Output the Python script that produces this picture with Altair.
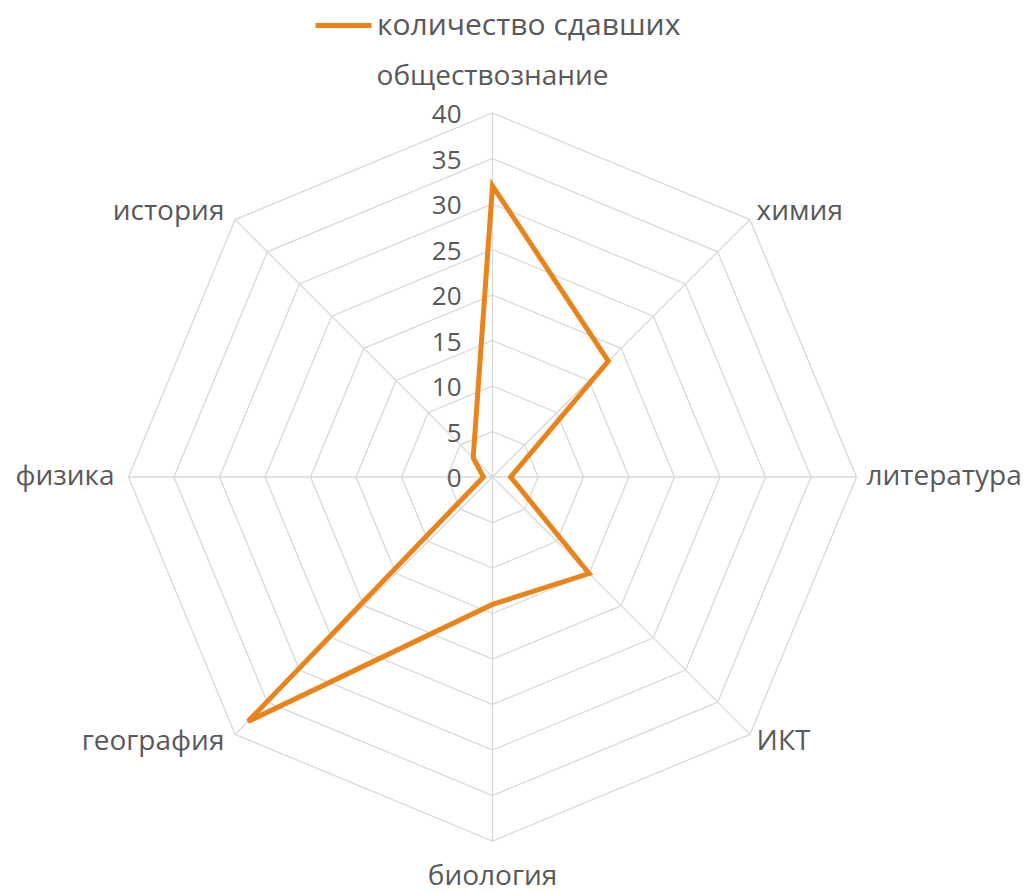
import altair as alt
import pandas as pd

categories = ["обществознание", "химия", "литература", "ИКТ", "биология", "география", "физика", "история"]
values = [32, 18, 2, 15, 14, 38, 1, 3]
series_name = "количество сдавших"
grid_levels = [5, 10, 15, 20, 25, 30, 35, 40]
tick_values = [0, 5, 10, 15, 20, 25, 30, 35, 40]

N = len(categories)
RMAX = 40
ORANGE = "#E8841A"
GRID = "#D9D9D9"
TXT = "#595959"
FONT = "Open Sans"
FS = 28
FS_TICK = 26
FS_LEG = 30

xs = alt.Scale(domain=[-RMAX, RMAX], range=[120.5, 848.5])
ys = alt.Scale(domain=[-RMAX, RMAX], range=[833, 105])

data_df = pd.DataFrame({"cat": categories, "val": values, "idx": list(range(N)), "series": series_name})
grid_df = pd.DataFrame([{"level": l, "idx": i} for l in grid_levels for i in range(N)])
spoke_df = pd.DataFrame({"idx": list(range(N)), "r": RMAX})
tick_df = pd.DataFrame({"t": tick_values})
label_df = pd.DataFrame({"cat": categories, "idx": list(range(N))})

ang = f"datum.idx * 2 * PI / {N}"

grid = alt.Chart(grid_df).transform_calculate(
    a=ang
).transform_calculate(
    x="datum.level * sin(datum.a)", y="datum.level * cos(datum.a)"
).mark_line(interpolate="linear-closed", color=GRID, strokeWidth=1.3).encode(
    x=alt.X("x:Q", scale=xs, axis=None),
    y=alt.Y("y:Q", scale=ys, axis=None),
    detail="level:N",
    order="idx:Q",
)

spokes = alt.Chart(spoke_df).transform_calculate(
    a=ang
).transform_calculate(
    x="datum.r * sin(datum.a)", y="datum.r * cos(datum.a)", x0="0", y0="0"
).mark_rule(color=GRID, strokeWidth=1.3).encode(
    x=alt.X("x0:Q", scale=xs, axis=None),
    y=alt.Y("y0:Q", scale=ys, axis=None),
    x2="x:Q",
    y2="y:Q",
)

line = alt.Chart(data_df).transform_calculate(
    a=ang
).transform_calculate(
    x="datum.val * sin(datum.a)", y="datum.val * cos(datum.a)"
).mark_line(interpolate="linear-closed", strokeWidth=5, strokeJoin="miter").encode(
    x=alt.X("x:Q", scale=xs, axis=None),
    y=alt.Y("y:Q", scale=ys, axis=None),
    order="idx:Q",
    color=alt.Color(
        "series:N",
        scale=alt.Scale(domain=[series_name], range=[ORANGE]),
        legend=alt.Legend(
            title=None, orient="none", legendX=305, legendY=-13,
            symbolType="stroke", symbolSize=3136, symbolStrokeWidth=5,
            labelFontSize=FS_LEG, labelFont=FONT, labelColor=TXT, labelOffset=3,
            padding=0, labelLimit=600,
        ),
    ),
)

ticks = alt.Chart(tick_df).transform_calculate(x0="0").mark_text(
    align="right", baseline="middle", dx=-31, dy=2, font=FONT, fontSize=FS_TICK, color=TXT
).encode(
    x=alt.X("x0:Q", scale=xs, axis=None),
    y=alt.Y("t:Q", scale=ys, axis=None),
    text="t:Q",
)

def labels(filt, align, dx=0, dy=0):
    return alt.Chart(label_df).transform_filter(filt).transform_calculate(
        a=ang
    ).transform_calculate(
        x=f"{RMAX + 1.2} * sin(datum.a)", y=f"{RMAX + 1.2} * cos(datum.a)"
    ).mark_text(
        align=align, baseline="middle", dx=dx, dy=dy, font=FONT, fontSize=FS, color=TXT
    ).encode(
        x=alt.X("x:Q", scale=xs, axis=None),
        y=alt.Y("y:Q", scale=ys, axis=None),
        text="cat:N",
    )

lab_top = labels("datum.idx == 0", "center", dy=-25)
lab_bot = labels("datum.idx == 4", "center", dy=25)
lab_right = labels("datum.idx >= 1 && datum.idx <= 3", "left", dx=-1)
lab_left = labels("datum.idx >= 5", "right", dx=-3)

chart = alt.layer(grid, spokes, line, ticks, lab_top, lab_bot, lab_right, lab_left).properties(
    width=1015, height=884, autosize=alt.AutoSizeParams(type="none"), padding=0
).configure_view(stroke=None, clip=False)

chart.save("out.html", embed_options={"renderer": "svg", "actions": False})
